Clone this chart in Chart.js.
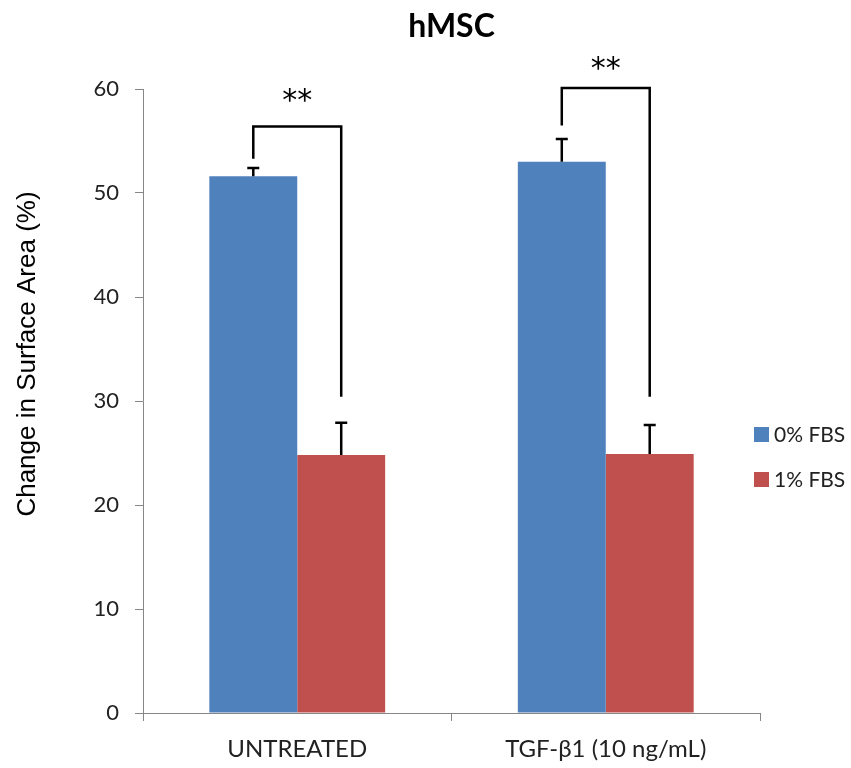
<!DOCTYPE html>
<html>
<head>
<meta charset="utf-8">
<script src="https://cdn.jsdelivr.net/npm/chart.js@4"></script>
<style>
  html, body { margin: 0; padding: 0; background: #fff; }
  #wrap { width: 851px; height: 768px; position: relative; }
</style>
</head>
<body>
<div id="wrap"><canvas id="chart"></canvas></div>
<script>
// chart data
const categories = ['UNTREATED', 'TGF-β1 (10 ng/mL)'];
const seriesLabels = ['0% FBS', '1% FBS'];
const fbs0 = [51.6, 53.0];
const fbs1 = [24.8, 24.9];
const fbs0Err = [0.8, 2.2];
const fbs1Err = [3.1, 2.8];
const yTicks = [0, 10, 20, 30, 40, 50, 60];

// significance brackets, in axis units
const bracketTop = [56.4, 60.1];
const bracketLeftFrom = [53.3, 56.5];
const bracketRightFrom = [30.4, 30.4];
const starLevel = [59.4, 62.5];
const starText = ['**', '**'];

const BLUE = '#4F81BD';
const RED = '#C0504D';
const AXIS = '#868686';
const FONT = 'Lato, "Open Sans", sans-serif';

// error bars, brackets, stars, legend and y title
const extras = {
    id: 'extras',
    afterDatasetsDraw(chart) {
        const ctx = chart.ctx;
        const y = chart.scales.y;
        const metas = [chart.getDatasetMeta(0), chart.getDatasetMeta(1)];
        const vals = [fbs0, fbs1];
        const errs = [fbs0Err, fbs1Err];

        ctx.save();
        ctx.strokeStyle = '#000';
        ctx.lineWidth = 2.5;
        ctx.lineCap = 'butt';

        metas.forEach((meta, s) => {
            meta.data.forEach((bar, i) => {
                const top = y.getPixelForValue(vals[s][i] + errs[s][i]);
                ctx.beginPath();
                ctx.moveTo(bar.x, bar.y);
                ctx.lineTo(bar.x, top);
                ctx.moveTo(bar.x - 6, top);
                ctx.lineTo(bar.x + 6, top);
                ctx.stroke();
            });
        });

        // brackets between the two bars of each group
        categories.forEach((c, i) => {
            const xl = metas[0].data[i].x;
            const xr = metas[1].data[i].x;
            const yt = y.getPixelForValue(bracketTop[i]);
            ctx.beginPath();
            ctx.moveTo(xl, y.getPixelForValue(bracketLeftFrom[i]));
            ctx.lineTo(xl, yt);
            ctx.lineTo(xr, yt);
            ctx.lineTo(xr, y.getPixelForValue(bracketRightFrom[i]));
            ctx.stroke();

            ctx.fillStyle = '#000';
            ctx.font = '30px "DejaVu Sans", sans-serif';
            ctx.textAlign = 'center';
            ctx.textBaseline = 'middle';
            ctx.fillText(starText[i], (xl + xr) / 2, y.getPixelForValue(starLevel[i]) + 7);
        });

        // legend
        ctx.font = '21px ' + FONT;
        ctx.textAlign = 'left';
        ctx.textBaseline = 'middle';
        [BLUE, RED].forEach((col, k) => {
            const cy = 435 + k * 45;
            ctx.fillStyle = col;
            ctx.fillRect(754, cy - 8, 15, 15);
            ctx.fillStyle = '#222';
            ctx.fillText(seriesLabels[k], 774, cy);
        });

        // y axis title
        ctx.translate(28, 354);
        ctx.rotate(-Math.PI / 2);
        ctx.font = '26px "Liberation Sans", Arial, sans-serif';
        ctx.textAlign = 'center';
        ctx.fillStyle = '#000';
        ctx.fillText('Change in Surface Area (%)', 0, 0);
        ctx.restore();
    }
};

Chart.defaults.font.family = FONT;
Chart.defaults.color = '#222';

new Chart(document.getElementById('chart'), {
    type: 'bar',
    data: {
        labels: categories,
        datasets: [
            { label: seriesLabels[0], data: fbs0, backgroundColor: BLUE, borderWidth: 0 },
            { label: seriesLabels[1], data: fbs1, backgroundColor: RED, borderWidth: 0 }
        ]
    },
    options: {
        responsive: true,
        maintainAspectRatio: false,
        animation: false,
        datasets: { bar: { categoryPercentage: 0.57, barPercentage: 1.0 } },
        layout: { padding: { left: 0, right: 91, top: 0, bottom: 0 } },
        plugins: {
            legend: { display: false },
            tooltip: { enabled: false },
            title: {
                display: true,
                text: 'hMSC',
                fullSize: false,
                color: '#000',
                font: { size: 32, weight: 'bold', family: FONT },
                padding: { top: 7, bottom: 43.6 }
            }
        },
        scales: {
            x: {
                grid: { display: true, drawOnChartArea: false, color: AXIS, tickLength: 8, offset: true },
                border: { color: AXIS },
                ticks: { font: { size: 24 }, padding: 14, maxRotation: 0 },
                afterFit: scale => { scale.height = 55; }
            },
            y: {
                min: yTicks[0],
                max: yTicks[yTicks.length - 1],
                grid: { display: true, drawOnChartArea: false, color: AXIS, tickLength: 8 },
                border: { color: AXIS },
                ticks: { stepSize: yTicks[1] - yTicks[0], font: { size: 22 }, padding: 16 },
                afterFit: scale => { scale.width = 143; }
            }
        }
    },
    plugins: [extras]
});
</script>
</body>
</html>
